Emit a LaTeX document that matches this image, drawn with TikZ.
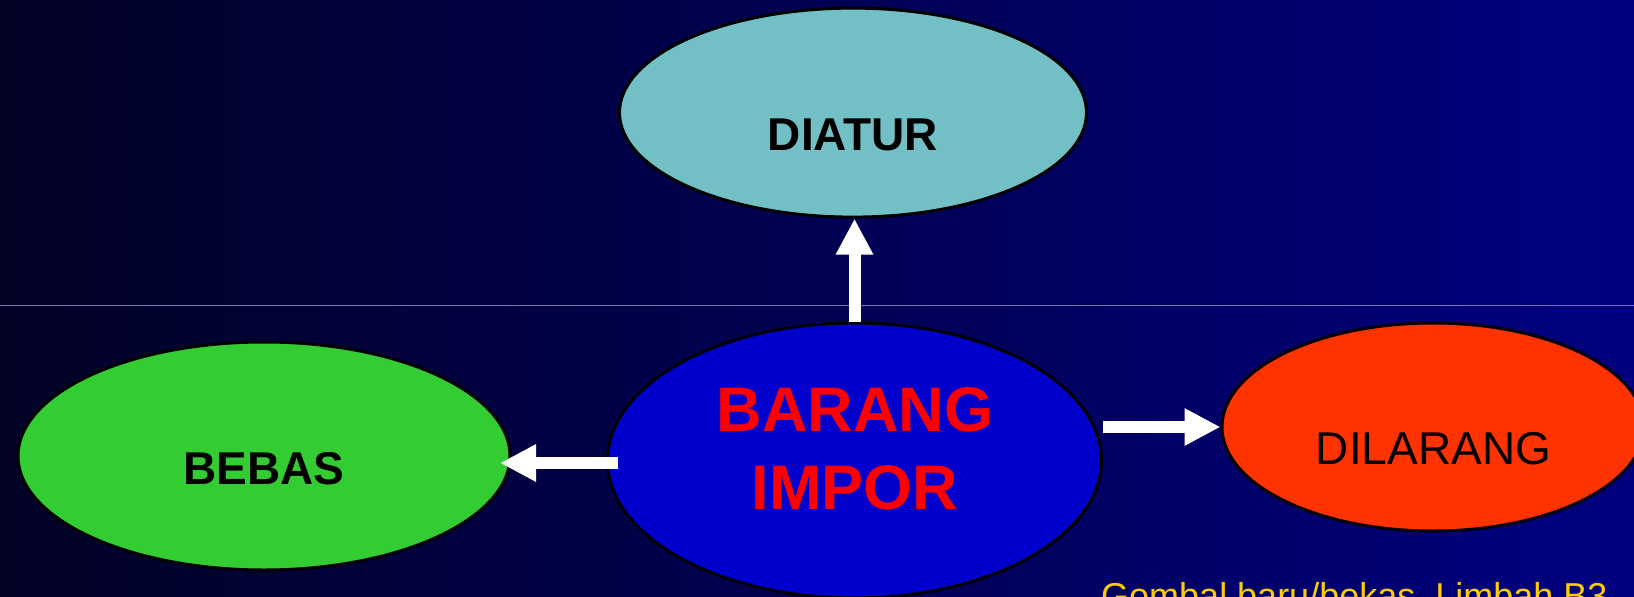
\documentclass[tikz,border=0pt]{standalone}
\usepackage{fontspec}
\setmainfont{Liberation Sans}
\usetikzlibrary{shapes.geometric,arrows.meta}
\definecolor{bgdark}{RGB}{2,2,38}
\definecolor{bgmid}{RGB}{0,0,108}
\definecolor{bgright}{RGB}{0,0,128}
\definecolor{sepline}{RGB}{120,120,170}
\definecolor{diaturteal}{RGB}{114,191,197}
\definecolor{bebasgreen}{RGB}{51,204,51}
\definecolor{imporblue}{RGB}{0,0,204}
\definecolor{dilarangred}{RGB}{255,51,0}
\definecolor{gombalyellow}{RGB}{255,204,0}

\begin{document}
\begin{tikzpicture}[x=1pt, y=-1pt,
	blob/.style={ellipse, draw=black, line width=3pt, inner sep=0pt},
	blobtext/.style={inner sep=0pt, font=\fontsize{46}{55}\selectfont},
	blockarrow/.style={draw=white, line width=12pt, -{Triangle[length=36pt, width=35pt]}}]
			%%%%% START %%%%%
			
			\clip (0, 0) rectangle (1634, 597);
			\shade[left color=bgdark, middle color=bgmid, right color=bgright] (0, 0) rectangle (1634, 597);
			\draw[line width=1pt, color=sepline] (0, 305) -- (1634, 305);
			
			\node[blob, fill=diaturteal, minimum width=467pt, minimum height=209pt] (diatur) at (853, 112.6) {};
			\node[blob, fill=bebasgreen, minimum width=492pt, minimum height=228pt] (bebas) at (264, 456) {};
			\node[blob, fill=imporblue, minimum width=494pt, minimum height=275pt] (barang) at (854.5, 460.5) {};
			\node[blob, fill=dilarangred, minimum width=422pt, minimum height=208pt] (dilarang) at (1433, 427) {};
			
			\node[blobtext, font=\fontsize{46}{55}\selectfont\bfseries] (diaturText) at (853, 135) {DIATUR};
			\node[blobtext, font=\fontsize{46}{55}\selectfont\bfseries] (bebasText) at (264, 469) {BEBAS};
			\node[blobtext] (dilarangText) at (1433.5, 449) {DILARANG};
			\node[blobtext, align=center, text=red, font=\fontsize{63}{78}\selectfont\bfseries] (barangText) at (855, 449) {BARANG\\IMPOR};
			
			\draw[blockarrow] (barang.north) -- (barang.north |- diatur.south);
			\draw[blockarrow] ([xshift=11.5pt, yshift=-2.5pt]barang.west) -- ([xshift=-11.5pt, yshift=-2.5pt]barang.west -| bebas.east);
			\draw[blockarrow] (barang.east |- dilarang.west) -- (dilarang.west);
			
			\node[anchor=base west, inner sep=0pt, text=gombalyellow, font=\fontsize{36}{43}\selectfont] (gombal) at (1101, 608) {Gombal baru/bekas, Limbah B3,};
			
			%%%%% END %%%%%
		\end{tikzpicture}
\end{document}
